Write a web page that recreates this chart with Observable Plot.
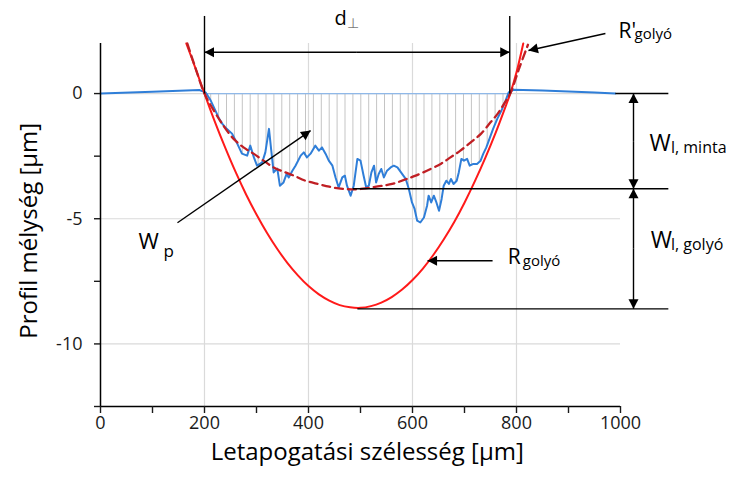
<!DOCTYPE html>
<html><head><meta charset="utf-8">
<script src="https://cdn.jsdelivr.net/npm/d3@7"></script>
<script src="https://cdn.jsdelivr.net/npm/@observablehq/plot@0.6"></script>
<style>body{margin:0;background:#fff;}</style>
</head><body><div id="chart"></div>
<script>
// ---- data ----
const profileX = [0,100,190,202,212,221,228,234,240,253,263,272,282,288,295,301,311,317,324,328,333,340,345,352,358,362,369,375,385,391,397,404,413,420,426,433,439,446,452,458,465,470,474,481,487,494,500,506,511,516,521,526,530,535,540,545,551,558,564,571,580,587,593,599,604,609,615,622,628,631,636,641,646,651,656,660,665,670,674,679,685,689,694,699,705,710,717,724,731,736,742,749,755,763,771,779,785,794,850,900,950,990];
const profileY = [0,0.07,0.14,0.05,-0.28,-0.68,-1.0,-1.2,-1.35,-1.6,-2.0,-2.4,-2.48,-2.08,-2.55,-2.88,-2.75,-2.35,-1.41,-2.2,-3.15,-3.0,-3.68,-3.55,-3.2,-3.35,-3.08,-2.88,-2.48,-2.35,-2.55,-2.4,-2.08,-2.28,-2.15,-2.41,-2.68,-2.88,-3.35,-3.75,-3.35,-3.28,-3.68,-4.08,-3.68,-2.61,-2.68,-3.28,-3.75,-3.68,-3.15,-2.88,-3.55,-3.21,-3.01,-3.35,-3.08,-2.95,-2.88,-2.95,-3.21,-3.41,-3.81,-4.35,-4.61,-5.08,-5.15,-4.95,-4.48,-4.08,-4.35,-4.08,-4.35,-4.68,-4.21,-3.68,-3.48,-3.61,-3.41,-3.61,-3.48,-3.15,-2.61,-2.68,-2.61,-2.88,-2.81,-2.81,-2.68,-2.41,-2.15,-1.75,-1.41,-1.01,-0.68,-0.28,0.05,0.15,0.12,0.08,0.04,0];

const ballX = [165,182,200,220,240,260,280,300,320,340,360,380,400,420,440,460,480,500,520,540,560,580,600,620,640,660,680,700,720,740,760,780,788,800,813];
const ballY = [2.0,1.05,0,-1.13,-2.17,-3.14,-4.03,-4.83,-5.56,-6.21,-6.78,-7.27,-7.69,-8.02,-8.27,-8.45,-8.54,-8.56,-8.49,-8.35,-8.13,-7.83,-7.45,-6.99,-6.45,-5.83,-5.14,-4.36,-3.5,-2.57,-1.56,-0.46,0,0.85,2.0];

const sampleX = [167,183,200,218,237,256,275,295,315,333,352,372,394,420,440,458,475,490,505,522,540,561,585,606,635,655,673,692,712,732,750,764,776,788,805,822];
const sampleY = [2.0,1.0,0,-0.68,-1.3,-1.81,-2.15,-2.41,-2.7,-2.95,-3.12,-3.28,-3.48,-3.62,-3.72,-3.79,-3.82,-3.83,-3.8,-3.75,-3.69,-3.61,-3.44,-3.28,-3.01,-2.8,-2.55,-2.28,-1.95,-1.6,-1.15,-0.8,-0.41,0,1.0,1.95];

const xTicks = [0,100,200,300,400,500,600,700,800,900,1000];
const xLabels = [0,200,400,600,800,1000];
const yTicks = [0,-2.5,-5,-7.5,-10,-12.5];
const yLabels = [0,-5,-10];
const xGrid = [200,400,600,800];
const yGrid = [0,-5,-10];

const xTitle = "Letapogatási szélesség [μm]";
const yTitle = "Profil mélység [μm]";

// key levels
const dLeft = 200, dRight = 787;
const wMinta = -3.8, wGolyo = -8.6;

// ---- annotation geometry (data units) ----
const arrows = [
  {x1: 493, y1: 1.65, x2: dLeft, y2: 1.65},
  {x1: 493, y1: 1.65, x2: dRight, y2: 1.65},
  {x1: 1025, y1: -1.9, x2: 1025, y2: 0},
  {x1: 1025, y1: -1.9, x2: 1025, y2: wMinta},
  {x1: 1025, y1: -6.2, x2: 1025, y2: wMinta},
  {x1: 1025, y1: -6.2, x2: 1025, y2: wGolyo},
  {x1: 754, y1: -6.68, x2: 629, y2: -6.68},
  {x1: 971, y1: 2.4, x2: 823, y2: 1.72},
  {x1: 148, y1: -5.16, x2: 404, y2: -1.48}
];
const lines = [
  {x1: dLeft, y1: 0, x2: dLeft, y2: 3.1},
  {x1: dRight, y1: 0, x2: dRight, y2: 3.1},
  {x1: 990, y1: 0, x2: 1092, y2: 0},
  {x1: 485, y1: wMinta, x2: 1092, y2: wMinta},
  {x1: 494, y1: wGolyo, x2: 1092, y2: wGolyo}
];
const labels = [
  {t: "d", x: 450, y: 2.72, s: 20, c: "#000"},
  {t: "⊥", x: 474, y: 2.6, s: 14, c: "#777"},
  {t: "R'", x: 996, y: 2.2, s: 21, c: "#000"},
  {t: "golyó", x: 1027, y: 2.16, s: 15, c: "#000"},
  {t: "W", x: 1056, y: -2.28, s: 23, c: "#000"},
  {t: "l, minta", x: 1097, y: -2.36, s: 16, c: "#000"},
  {t: "W", x: 1058, y: -6.16, s: 23, c: "#000"},
  {t: "l, golyó", x: 1097, y: -6.24, s: 16, c: "#000"},
  {t: "R", x: 783, y: -6.8, s: 21, c: "#000"},
  {t: "golyó", x: 812, y: -6.88, s: 15, c: "#000"},
  {t: "W", x: 73, y: -6.2, s: 22, c: "#000"},
  {t: "p", x: 121, y: -6.52, s: 17, c: "#000"}
];

// ---- build ----
const W = 731, H = 494, mL = 100, mR = 111, mT = 43, mB = 88;
const xDomain = [0, 1000], yDomain = [-12.5, 2];
const profile = profileX.map((x, i) => ({x, y: profileY[i]}));
const hatch = profile.filter(d => d.x >= dLeft && d.x <= dRight);
const ball = ballX.map((x, i) => ({x, y: ballY[i]}));
const sample = sampleX.map((x, i) => ({x, y: sampleY[i]}));

const sx = Plot.scale({x: {domain: xDomain, range: [mL, W - mR]}});
const sy = Plot.scale({y: {domain: yDomain, range: [H - mB, mT]}});
const heads = arrows.map(a => {
  const dx = sx.apply(a.x2) - sx.apply(a.x1), dy = sy.apply(a.y2) - sy.apply(a.y1);
  return {x: a.x2, y: a.y2, r: Math.atan2(dx, -dy) * 180 / Math.PI};
});
const tip = {draw(ctx) { ctx.moveTo(0, 0); ctx.lineTo(-5, 9.5); ctx.lineTo(5, 9.5); ctx.closePath(); }};

const chart = Plot.plot({
  width: W, height: H, marginLeft: mL, marginRight: mR, marginTop: mT, marginBottom: mB,
  x: {domain: xDomain, axis: null},
  y: {domain: yDomain, axis: null},
  style: {fontFamily: "'Open Sans', sans-serif", background: "#fff", overflow: "visible"},
  marks: [
    Plot.ruleX(xGrid, {y1: yDomain[0], y2: yDomain[1], stroke: "#dadada", strokeWidth: 1.2}),
    Plot.ruleY(yGrid, {x1: 0, x2: 1000, stroke: "#dadada", strokeWidth: 1.2}),
    Plot.areaY(hatch, {x: "x", y1: 0, y2: "y", fill: "url(#hatch)"}),
    Plot.ruleY([0], {x1: dLeft, x2: dRight, stroke: "#8fb8e8", strokeWidth: 1.2}),
    Plot.line(profile, {x: "x", y: "y", stroke: "#2f7ed8", strokeWidth: 2}),
    Plot.line(ball, {x: "x", y: "y", stroke: "#ff1a1a", strokeWidth: 2, curve: "catmull-rom"}),
    Plot.line(sample, {x: "x", y: "y", stroke: "#c01f24", strokeWidth: 2.3, strokeDasharray: "8,5", curve: "catmull-rom"}),
    Plot.link(lines, {x1: "x1", y1: "y1", x2: "x2", y2: "y2", stroke: "#000", strokeWidth: 1.4}),
    Plot.link(arrows, {x1: "x1", y1: "y1", x2: "x2", y2: "y2", stroke: "#000", strokeWidth: 1.4}),
    Plot.dot(heads, {x: "x", y: "y", rotate: "r", symbol: tip, fill: "#000", stroke: "none"}),
    Plot.text(labels, {x: "x", y: "y", text: "t", fontSize: "s", fill: "c", textAnchor: "start", lineAnchor: "bottom"}),
    Plot.ruleX([0], {y1: yDomain[0], y2: yDomain[1], stroke: "#000", strokeWidth: 1.5}),
    Plot.ruleY([yDomain[0]], {x1: 0, x2: 1000, stroke: "#000", strokeWidth: 1.5}),
    Plot.axisX(xTicks, {tickSize: 7, tickPadding: 3, fontSize: 18, color: "#1a1a1a", strokeWidth: 1.4,
      tickFormat: d => xLabels.includes(d) ? String(d) : "", label: null}),
    Plot.axisY(yTicks, {tickSize: 6, tickPadding: 12, fontSize: 18, color: "#1a1a1a", strokeWidth: 1.4,
      tickFormat: d => yLabels.includes(d) ? String(d) : "", label: null}),
    Plot.text([xTitle], {x: 513, y: -14.64, text: d => d, fontSize: 24, fill: "#000", textAnchor: "middle", lineAnchor: "bottom"}),
    Plot.text([yTitle], {x: -136, y: -5.48, text: d => d, fontSize: 24, fill: "#000", textAnchor: "middle", rotate: -90})
  ]
});

const svg = d3.select(chart);
const pat = svg.insert("defs", ":first-child").append("pattern")
  .attr("id", "hatch").attr("patternUnits", "userSpaceOnUse")
  .attr("width", 7.9).attr("height", 20).attr("x", 4.8).attr("y", 0);
pat.append("line").attr("x1", 0.5).attr("x2", 0.5).attr("y1", 0).attr("y2", 20)
  .attr("stroke", "#c4c4c4").attr("stroke-width", 1);
document.getElementById("chart").appendChild(chart);
</script>
</body></html>
